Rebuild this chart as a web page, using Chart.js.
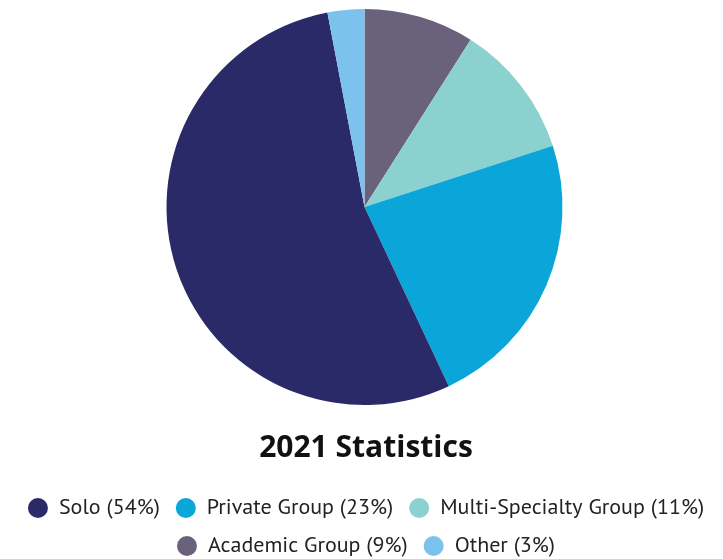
<!DOCTYPE html>
<html>
<head>
<meta charset="utf-8">
<script src="https://cdn.jsdelivr.net/npm/chart.js@4"></script>
<style>
  html, body { margin: 0; padding: 0; background: #fff; }
  #wrap { width: 723px; height: 559px; position: relative; }
</style>
</head>
<body>
<div id="wrap"><canvas id="pieChart"></canvas></div>
<script>
// Practice types, in legend order
const categories = ['Solo', 'Private Group', 'Multi-Specialty Group', 'Academic Group', 'Other'];
const shares = [54, 23, 11, 9, 3];
const sliceColors = ['#2b2a68', '#0aa6da', '#8bd1d0', '#6a627c', '#7bc3ec'];

// Slices run clockwise from 12 o'clock in this order
const drawOrder = ['Academic Group', 'Multi-Specialty Group', 'Private Group', 'Solo', 'Other'];

const idx = drawOrder.map(name => categories.indexOf(name));
const labels = idx.map(i => categories[i] + ' (' + shares[i] + '%)');

new Chart(document.getElementById('pieChart'), {
    type: 'pie',
    data: {
        labels: labels,
        datasets: [{
            data: idx.map(i => shares[i]),
            backgroundColor: idx.map(i => sliceColors[i]),
            borderWidth: 0,
            hoverOffset: 0
        }]
    },
    options: {
        responsive: true,
        maintainAspectRatio: false,
        animation: false,
        // small negative right/bottom padding keeps the legend on two rows and low on the page
        layout: { padding: { top: 9, left: 6, right: -3, bottom: -8 } },
        plugins: {
            title: {
                display: true,
                text: '2021 Statistics',
                position: 'bottom',
                weight: 500,
                color: '#111',
                font: { family: '"Open Sans", "Noto Sans", sans-serif', size: 30, weight: 'bold' },
                padding: { top: 25, bottom: 15 }
            },
            legend: {
                position: 'bottom',
                weight: 1000,
                labels: {
                    color: '#222',
                    font: { family: '"PT Sans", "Noto Sans", sans-serif', size: 22 },
                    usePointStyle: true,
                    pointStyle: 'circle',
                    boxHeight: 14,
                    pointStyleWidth: 20,
                    padding: 16,
                    sort: (a, b) => categories.indexOf(drawOrder[a.index]) - categories.indexOf(drawOrder[b.index])
                }
            },
            tooltip: { enabled: false }
        }
    }
});
</script>
</body>
</html>
